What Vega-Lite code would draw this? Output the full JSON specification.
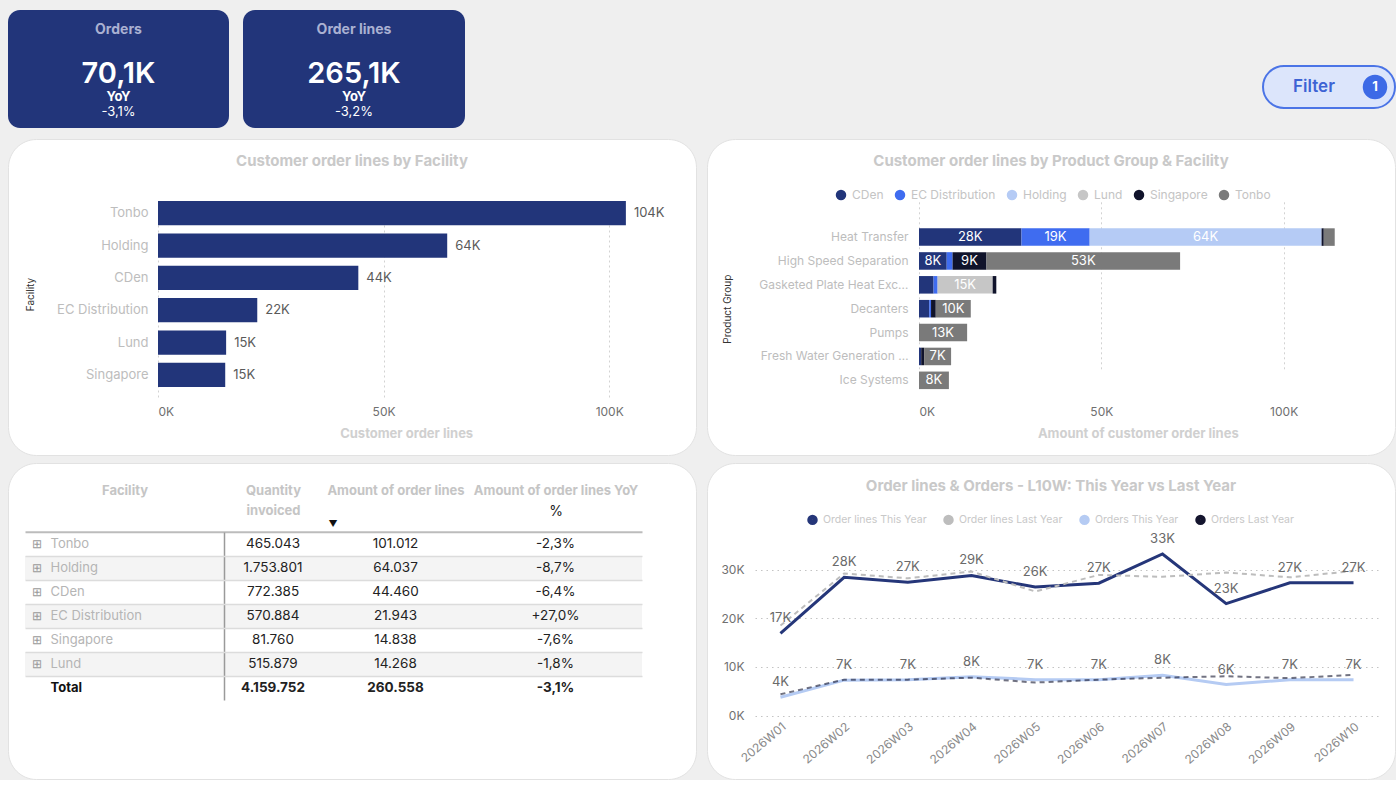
{
  "$schema": "https://vega.github.io/schema/vega-lite/v6.json",
  "background": "#efefef",
  "padding": {"left": 7, "top": 10, "right": 0, "bottom": 0},
  "config": {
    "font": "Inter",
    "view": {"stroke": null},
    "locale": {"number": {"decimal": ",", "thousands": ".", "grouping": [3], "currency": ["", " €"], "minus": "-"}},
    "axis": {"labelFont": "Inter", "titleFont": "Inter"},
    "legend": {"labelFont": "Inter"},
    "title": {"font": "Inter"}
  },
  "datasets": {
    "kpis": [
      {"metric": "Orders", "value": 70100, "yoy": -0.031},
      {"metric": "Order lines", "value": 265100, "yoy": -0.032}
    ],
    "filters": [{"active_filters": 1}],
    "facility_lines": [
      {"facility": "Tonbo", "lines": 103700},
      {"facility": "Holding", "lines": 64100},
      {"facility": "CDen", "lines": 44400},
      {"facility": "EC Distribution", "lines": 22000},
      {"facility": "Lund", "lines": 15100},
      {"facility": "Singapore", "lines": 14900}
    ],
    "group_facility": [
      {"group": "Heat Transfer", "facility": "CDen", "lines": 28100},
      {"group": "Heat Transfer", "facility": "EC Distribution", "lines": 18700},
      {"group": "Heat Transfer", "facility": "Holding", "lines": 63600},
      {"group": "Heat Transfer", "facility": "Singapore", "lines": 600},
      {"group": "Heat Transfer", "facility": "Tonbo", "lines": 3000},
      {"group": "High Speed Separation", "facility": "CDen", "lines": 7600},
      {"group": "High Speed Separation", "facility": "EC Distribution", "lines": 1600},
      {"group": "High Speed Separation", "facility": "Singapore", "lines": 9300},
      {"group": "High Speed Separation", "facility": "Tonbo", "lines": 53100},
      {"group": "Gasketed Plate Heat Exchangers", "facility": "CDen", "lines": 4000},
      {"group": "Gasketed Plate Heat Exchangers", "facility": "EC Distribution", "lines": 1100},
      {"group": "Gasketed Plate Heat Exchangers", "facility": "Lund", "lines": 15100},
      {"group": "Gasketed Plate Heat Exchangers", "facility": "Singapore", "lines": 1000},
      {"group": "Decanters", "facility": "CDen", "lines": 2800},
      {"group": "Decanters", "facility": "EC Distribution", "lines": 500},
      {"group": "Decanters", "facility": "Singapore", "lines": 1300},
      {"group": "Decanters", "facility": "Tonbo", "lines": 9600},
      {"group": "Pumps", "facility": "Tonbo", "lines": 13200},
      {"group": "Fresh Water Generation & Filtration", "facility": "CDen", "lines": 600},
      {"group": "Fresh Water Generation & Filtration", "facility": "Singapore", "lines": 800},
      {"group": "Fresh Water Generation & Filtration", "facility": "Tonbo", "lines": 7400},
      {"group": "Ice Systems", "facility": "Tonbo", "lines": 8200}
    ],
    "facility_table": [
      {"facility": "Tonbo", "qty": 465043, "amount": 101012, "yoy": -0.023},
      {"facility": "Holding", "qty": 1753801, "amount": 64037, "yoy": -0.087},
      {"facility": "CDen", "qty": 772385, "amount": 44460, "yoy": -0.064},
      {"facility": "EC Distribution", "qty": 570884, "amount": 21943, "yoy": 0.27},
      {"facility": "Singapore", "qty": 81760, "amount": 14838, "yoy": -0.076},
      {"facility": "Lund", "qty": 515879, "amount": 14268, "yoy": -0.018},
      {"facility": "Total", "qty": 4159752, "amount": 260558, "yoy": -0.031}
    ],
    "weekly": [
      {"week": "2026W01", "series": "Order lines This Year", "value": 16900},
      {"week": "2026W02", "series": "Order lines This Year", "value": 28400},
      {"week": "2026W03", "series": "Order lines This Year", "value": 27400},
      {"week": "2026W04", "series": "Order lines This Year", "value": 28800},
      {"week": "2026W05", "series": "Order lines This Year", "value": 26400},
      {"week": "2026W06", "series": "Order lines This Year", "value": 27200},
      {"week": "2026W07", "series": "Order lines This Year", "value": 33200},
      {"week": "2026W08", "series": "Order lines This Year", "value": 23000},
      {"week": "2026W09", "series": "Order lines This Year", "value": 27300},
      {"week": "2026W10", "series": "Order lines This Year", "value": 27300},
      {"week": "2026W01", "series": "Order lines Last Year", "value": 18500},
      {"week": "2026W02", "series": "Order lines Last Year", "value": 29200},
      {"week": "2026W03", "series": "Order lines Last Year", "value": 28200},
      {"week": "2026W04", "series": "Order lines Last Year", "value": 29600},
      {"week": "2026W05", "series": "Order lines Last Year", "value": 25500},
      {"week": "2026W06", "series": "Order lines Last Year", "value": 28900},
      {"week": "2026W07", "series": "Order lines Last Year", "value": 28500},
      {"week": "2026W08", "series": "Order lines Last Year", "value": 29400},
      {"week": "2026W09", "series": "Order lines Last Year", "value": 28400},
      {"week": "2026W10", "series": "Order lines Last Year", "value": 29700},
      {"week": "2026W01", "series": "Orders This Year", "value": 3800},
      {"week": "2026W02", "series": "Orders This Year", "value": 7300},
      {"week": "2026W03", "series": "Orders This Year", "value": 7400},
      {"week": "2026W04", "series": "Orders This Year", "value": 8000},
      {"week": "2026W05", "series": "Orders This Year", "value": 7400},
      {"week": "2026W06", "series": "Orders This Year", "value": 7400},
      {"week": "2026W07", "series": "Orders This Year", "value": 8300},
      {"week": "2026W08", "series": "Orders This Year", "value": 6400},
      {"week": "2026W09", "series": "Orders This Year", "value": 7400},
      {"week": "2026W10", "series": "Orders This Year", "value": 7400},
      {"week": "2026W01", "series": "Orders Last Year", "value": 4400},
      {"week": "2026W02", "series": "Orders Last Year", "value": 7400},
      {"week": "2026W03", "series": "Orders Last Year", "value": 7400},
      {"week": "2026W04", "series": "Orders Last Year", "value": 7800},
      {"week": "2026W05", "series": "Orders Last Year", "value": 6800},
      {"week": "2026W06", "series": "Orders Last Year", "value": 7400},
      {"week": "2026W07", "series": "Orders Last Year", "value": 7800},
      {"week": "2026W08", "series": "Orders Last Year", "value": 8100},
      {"week": "2026W09", "series": "Orders Last Year", "value": 7700},
      {"week": "2026W10", "series": "Orders Last Year", "value": 8400}
    ]
  },
  "spacing": 10,
  "resolve": {"scale": {"color": "independent"}, "legend": {"color": "independent"}},
  "vconcat": [
    {
      "spacing": 797,
      "hconcat": [
        {
          "spacing": 14,
          "hconcat": [
            {
              "width": 221, "height": 118,
              "view": {"fill": "#22357a", "cornerRadius": 12, "stroke": null},
              "data": {"name": "kpis"},
              "transform": [
                {"filter": "datum.metric === 'Orders'"},
                {"calculate": "format(datum.value / 1000, '.1f') + 'K'", "as": "value_label"}
              ],
              "layer": [
                {"mark": {"type": "text", "dy": -39, "fontSize": 14, "fontWeight": "bold", "color": "#aab1d2"}, "encoding": {"text": {"field": "metric", "type": "nominal"}}},
                {"mark": {"type": "text", "dy": 5, "fontSize": 29, "fontWeight": 600, "color": "#ffffff"}, "encoding": {"text": {"field": "value_label", "type": "nominal"}}},
                {"mark": {"type": "text", "dy": 28, "fontSize": 13, "fontWeight": "bold", "color": "#ffffff", "text": "YoY"}, "encoding": {}},
                {"mark": {"type": "text", "dy": 43, "fontSize": 13, "color": "#ffffff"}, "encoding": {"text": {"field": "yoy", "type": "quantitative", "format": ".1%"}}}
              ]
            },
            {
              "width": 222, "height": 118,
              "view": {"fill": "#22357a", "cornerRadius": 12, "stroke": null},
              "data": {"name": "kpis"},
              "transform": [
                {"filter": "datum.metric === 'Order lines'"},
                {"calculate": "format(datum.value / 1000, '.1f') + 'K'", "as": "value_label"}
              ],
              "layer": [
                {"mark": {"type": "text", "dy": -39, "fontSize": 14, "fontWeight": "bold", "color": "#aab1d2"}, "encoding": {"text": {"field": "metric", "type": "nominal"}}},
                {"mark": {"type": "text", "dy": 5, "fontSize": 29, "fontWeight": 600, "color": "#ffffff"}, "encoding": {"text": {"field": "value_label", "type": "nominal"}}},
                {"mark": {"type": "text", "dy": 28, "fontSize": 13, "fontWeight": "bold", "color": "#ffffff", "text": "YoY"}, "encoding": {}},
                {"mark": {"type": "text", "dy": 43, "fontSize": 13, "color": "#ffffff"}, "encoding": {"text": {"field": "yoy", "type": "quantitative", "format": ".1%"}}}
              ]
            }
          ]
        },
        {
          "spacing": 0,
          "vconcat": [
            {"width": 133, "height": 55, "data": {"values": [{}]}, "mark": {"type": "text", "text": ""}, "encoding": {}},
            {
              "width": 132, "height": 42,
              "view": {"fill": "#dce5fb", "stroke": "#4b74e6", "strokeWidth": 2, "cornerRadius": 21},
              "data": {"name": "filters"},
              "layer": [
                {
                  "mark": {"type": "text", "text": "Filter", "fontSize": 17, "fontWeight": 600, "color": "#3d63d4"},
                  "encoding": {"x": {"datum": "label", "type": "nominal", "scale": {"type": "point", "domain": ["label", "badge"], "range": [51, 112], "padding": 0}, "axis": null}}
                },
                {
                  "mark": {"type": "point", "filled": true, "shape": "circle", "size": 600, "color": "#3d6ae6", "opacity": 1},
                  "encoding": {"x": {"datum": "badge", "type": "nominal"}}
                },
                {
                  "mark": {"type": "text", "fontSize": 13, "fontWeight": "bold", "color": "#ffffff"},
                  "encoding": {"x": {"datum": "badge", "type": "nominal"}, "text": {"field": "active_filters", "type": "quantitative"}}
                }
              ]
            }
          ]
        }
      ]
    },
    {
      "spacing": 6,
      "resolve": {"scale": {"color": "independent"}, "legend": {"color": "independent"}},
      "vconcat": [
        {
          "spacing": 9,
          "resolve": {"scale": {"color": "independent"}, "legend": {"color": "independent"}},
          "hconcat": [
            {
              "width": 688, "height": 316,
              "view": {"fill": "#ffffff", "cornerRadius": 28, "stroke": "#e2e2e2"},
              "title": {"text": "Customer order lines by Facility", "frame": "group", "anchor": "middle", "offset": -37, "baseline": "middle", "fontSize": 15, "fontWeight": "bold", "color": "#c9c9c9"},
              "data": {"name": "facility_lines"},
              "transform": [{"calculate": "format(datum.lines / 1000, '.0f') + 'K'", "as": "lines_label"}],
              "encoding": {
                "y": {
                  "field": "facility", "type": "nominal",
                  "scale": {"domain": ["Tonbo", "Holding", "CDen", "EC Distribution", "Lund", "Singapore"], "range": [58, 252], "paddingInner": 0.25, "paddingOuter": 0.125},
                  "axis": {"orient": "left", "offset": -150, "ticks": false, "domain": false, "labelPadding": 10, "labelFontSize": 13, "labelColor": "#bdbdbd", "title": "Facility", "titleFontSize": 10, "titleFontWeight": "normal", "titleColor": "#333333", "titleX": -123, "titleY": 155, "titleAlign": "center", "titleBaseline": "bottom"}
                },
                "x": {
                  "field": "lines", "type": "quantitative",
                  "scale": {"domain": [0, 110000], "range": [150, 646.3], "nice": false},
                  "axis": {"orient": "bottom", "offset": -54, "values": [0, 50000, 100000], "labelExpr": "format(datum.value / 1000, '.0f') + 'K'", "domain": false, "ticks": false, "grid": true, "gridColor": "#d2d2d2", "gridDash": [2, 3], "labelColor": "#6f6f6f", "labelFontSize": 12, "labelPadding": 5, "title": "Customer order lines", "titleColor": "#d0d0d0", "titleFontSize": 13, "titlePadding": 10, "titleFontWeight": "bold"}
                }
              },
              "layer": [
                {"mark": {"type": "bar", "color": "#22357a"}},
                {"mark": {"type": "text", "align": "left", "dx": 8, "fontSize": 13, "color": "#5a5a5a"}, "encoding": {"text": {"field": "lines_label", "type": "nominal"}}}
              ]
            },
            {
              "width": 688, "height": 316,
              "view": {"fill": "#ffffff", "cornerRadius": 28, "stroke": "#e2e2e2"},
              "title": {"text": "Customer order lines by Product Group & Facility", "frame": "group", "anchor": "middle", "offset": -37, "baseline": "middle", "fontSize": 15, "fontWeight": "bold", "color": "#c9c9c9"},
              "data": {"name": "group_facility"},
              "transform": [{"calculate": "format(datum.lines / 1000, '.0f') + 'K'", "as": "lines_label"}],
              "encoding": {
                "y": {
                  "field": "group", "type": "nominal",
                  "scale": {"domain": ["Heat Transfer", "High Speed Separation", "Gasketed Plate Heat Exchangers", "Decanters", "Pumps", "Fresh Water Generation & Filtration", "Ice Systems"], "range": [86.2, 253.2], "paddingInner": 0.265, "paddingOuter": 0.13},
                  "axis": {"orient": "left", "offset": -212, "ticks": false, "domain": false, "labelPadding": 11, "labelLimit": 150, "labelFontSize": 12, "labelColor": "#bdbdbd", "title": "Product Group", "titleFontSize": 10, "titleFontWeight": "normal", "titleColor": "#333333", "titleX": -187, "titleY": 169.7, "titleAlign": "center", "titleBaseline": "bottom"}
                },
                "order": {"field": "facility", "type": "ordinal", "sort": "ascending"}
              },
              "layer": [
                {
                  "mark": {"type": "bar"},
                  "encoding": {
                    "x": {
                      "field": "lines", "type": "quantitative", "stack": "zero",
                      "scale": {"domain": [0, 120000], "range": [212, 649.6], "nice": false},
                      "axis": {"orient": "bottom", "offset": -54, "values": [0, 50000, 100000], "labelExpr": "format(datum.value / 1000, '.0f') + 'K'", "domain": false, "ticks": false, "grid": true, "gridColor": "#d2d2d2", "gridDash": [2, 3], "labelColor": "#6f6f6f", "labelFontSize": 12, "labelPadding": 5, "title": "Amount of customer order lines", "titleColor": "#d0d0d0", "titleFontSize": 13, "titlePadding": 10, "titleFontWeight": "bold"}
                    },
                    "color": {
                      "field": "facility", "type": "nominal",
                      "scale": {"domain": ["CDen", "EC Distribution", "Holding", "Lund", "Singapore", "Tonbo"], "range": ["#22357a", "#3f6cf0", "#b5cbf5", "#c6c6c6", "#10132b", "#7a7a7a"]},
                      "legend": {"orient": "none", "legendX": 128, "legendY": 50, "direction": "horizontal", "title": null, "symbolType": "circle", "symbolSize": 110, "labelFontSize": 12, "labelColor": "#c4c4c4", "columnPadding": 10, "labelOffset": 5}
                    }
                  }
                },
                {
                  "mark": {"type": "text", "fontSize": 13, "color": "#ffffff"},
                  "encoding": {
                    "x": {"field": "lines", "type": "quantitative", "stack": "zero", "bandPosition": 0.5},
                    "detail": {"field": "facility", "type": "nominal"},
                    "text": {"condition": {"test": "datum.lines >= 7000", "field": "lines_label", "type": "nominal"}, "value": ""}
                  }
                }
              ]
            }
          ]
        },
        {
          "spacing": 9,
          "resolve": {"scale": {"color": "independent"}, "legend": {"color": "independent"}},
          "hconcat": [
            {
              "width": 688, "height": 316,
              "view": {"fill": "#ffffff", "cornerRadius": 28, "stroke": "#e2e2e2"},
              "data": {"name": "facility_table"},
              "encoding": {
                "y": {"field": "facility", "type": "nominal", "scale": {"domain": ["Tonbo", "Holding", "CDen", "EC Distribution", "Singapore", "Lund", "Total"], "range": [69, 237], "paddingInner": 0, "paddingOuter": 0}}
              },
              "layer": [
                {
                  "transform": [{"filter": {"field": "facility", "oneOf": ["Holding", "EC Distribution", "Lund"]}}],
                  "mark": {"type": "bar", "color": "#f4f4f4"},
                  "encoding": {
                    "x": {"datum": "row", "type": "nominal", "scale": {"type": "band", "range": [17, 634], "paddingInner": 0, "paddingOuter": 0}, "axis": {"orient": "top", "offset": -68.7, "labels": false, "ticks": false, "domain": true, "domainColor": "#bcbcbc", "domainWidth": 2, "grid": false, "title": null}},
                    "y": {
                      "field": "facility", "type": "nominal",
                      "axis": {
                        "orient": "left", "offset": -42, "zindex": 1, "labelAlign": "left", "labelPadding": 0, "labelOverlap": false, "labelBound": false, "ticks": false, "domain": false,
                        "grid": true, "bandPosition": 1, "gridColor": "#dcdcdc", "gridWidth": 1.5,
                        "gridOpacity": {"condition": {"test": "datum.value === 'Total'", "value": 0}, "value": 1},
                        "labelColor": {"condition": {"test": "datum.value === 'Total'", "value": "#111111"}, "value": "#b5b5b5"},
                        "labelFontWeight": {"condition": {"test": "datum.value === 'Total'", "value": "bold"}, "value": "normal"},
                        "labelFontSize": 13,
                        "title": "Facility", "titleAngle": 0, "titleX": 74.5, "titleY": 27.7, "titleAlign": "center", "titleBaseline": "middle", "titleColor": "#c5c5c5", "titleFontWeight": "bold", "titleFontSize": 13
                      }
                    }
                  }
                },
                {
                  "transform": [{"filter": "datum.facility !== 'Total'"}],
                  "mark": {"type": "text", "text": "⊞", "fontSize": 12, "color": "#9a9a9a"},
                  "encoding": {
                    "x": {"datum": "name", "type": "nominal", "bandPosition": 0.06, "scale": {"type": "band", "range": [17, 216], "paddingInner": 0, "paddingOuter": 0}, "axis": {"orient": "top", "offset": -68.7, "zindex": 1, "labels": false, "ticks": false, "domain": false, "grid": true, "bandPosition": 1, "gridColor": "#9a9a9a", "gridWidth": 1.5, "title": null}},
                    "y": {"field": "facility", "type": "nominal", "axis": null}
                  }
                },
                {
                  "mark": {"type": "text", "fontSize": 13.5, "color": "#222222", "fontWeight": {"expr": "datum.facility === 'Total' ? 'bold' : 'normal'"}},
                  "encoding": {
                    "x": {"datum": "qty", "type": "nominal", "scale": {"range": [216, 314]}, "axis": {"orient": "top", "offset": -68.7, "labels": false, "ticks": false, "domain": false, "grid": false, "title": ["Quantity", "invoiced"], "titleY": -41, "titleBaseline": "middle", "titleAlign": "center", "titleLineHeight": 20, "titleColor": "#c5c5c5", "titleFontWeight": "bold", "titleFontSize": 13}},
                    "y": {"field": "facility", "type": "nominal", "axis": null},
                    "text": {"field": "qty", "type": "quantitative", "format": ",d"}
                  }
                },
                {
                  "mark": {"type": "text", "fontSize": 13.5, "color": "#222222", "fontWeight": {"expr": "datum.facility === 'Total' ? 'bold' : 'normal'"}},
                  "encoding": {
                    "x": {"datum": "amount", "type": "nominal", "scale": {"range": [314, 461]}, "axis": {"orient": "top", "offset": -68.7, "labels": true, "labelAngle": 0, "labelExpr": "'▼'", "labelOffset": -63, "labelPadding": 3, "labelFontSize": 9, "labelColor": "#111111", "ticks": false, "domain": false, "grid": false, "title": "Amount of order lines", "titleY": -41, "titleBaseline": "middle", "titleAlign": "center", "titleColor": "#c5c5c5", "titleFontWeight": "bold", "titleFontSize": 13}},
                    "y": {"field": "facility", "type": "nominal", "axis": null},
                    "text": {"field": "amount", "type": "quantitative", "format": ",d"}
                  }
                },
                {
                  "mark": {"type": "text", "fontSize": 13.5, "color": "#222222", "fontWeight": {"expr": "datum.facility === 'Total' ? 'bold' : 'normal'"}},
                  "encoding": {
                    "x": {"datum": "%", "type": "nominal", "scale": {"range": [461, 634]}, "axis": {"orient": "top", "offset": -68.7, "labels": true, "labelAngle": 0, "labelPadding": 13, "labelFontSize": 14, "labelColor": "#222222", "ticks": false, "domain": false, "grid": false, "title": "Amount of order lines YoY", "titleY": -41, "titleBaseline": "middle", "titleAlign": "center", "titleColor": "#c5c5c5", "titleFontWeight": "bold", "titleFontSize": 13}},
                    "y": {"field": "facility", "type": "nominal", "axis": null},
                    "text": {"field": "yoy", "type": "quantitative", "format": "+.1%"}
                  }
                }
              ],
              "resolve": {"scale": {"x": "independent"}, "axis": {"x": "independent", "y": "independent"}}
            },
            {
              "width": 688, "height": 316,
              "view": {"fill": "#ffffff", "cornerRadius": 28, "stroke": "#e2e2e2"},
              "title": {"text": "Order lines & Orders - L10W: This Year vs Last Year", "frame": "group", "anchor": "middle", "offset": -38, "baseline": "middle", "fontSize": 15, "fontWeight": "bold", "color": "#c9c9c9"},
              "data": {"name": "weekly"},
              "transform": [{"calculate": "format(datum.value / 1000, '.0f') + 'K'", "as": "value_label"}],
              "encoding": {
                "x": {
                  "field": "week", "type": "ordinal",
                  "scale": {"type": "point", "range": [48, 672], "padding": 0.4},
                  "axis": {"orient": "bottom", "offset": -63.3, "labelAngle": -40, "labelAlign": "right", "labelBaseline": "top", "labelPadding": 5, "domain": false, "ticks": false, "grid": false, "title": null, "labelColor": "#8a8a8a", "labelFontSize": 12}
                },
                "y": {
                  "field": "value", "type": "quantitative",
                  "scale": {"domain": [0, 35000], "range": [252.7, 82.2], "nice": false},
                  "axis": {"orient": "left", "offset": -48, "values": [0, 10000, 20000, 30000], "labelExpr": "format(datum.value / 1000, '.0f') + 'K'", "labelPadding": 11, "domain": false, "ticks": false, "grid": true, "gridDash": [1.5, 4], "gridColor": "#c4c4c4", "gridWidth": 1.2, "title": null, "labelColor": "#707070", "labelFontSize": 12}
                },
                "color": {
                  "field": "series", "type": "nominal",
                  "scale": {"domain": ["Order lines This Year", "Order lines Last Year", "Orders This Year", "Orders Last Year"], "range": ["#253679", "#bdbdbd", "#b5cbf3", "#14152e"]},
                  "legend": {"orient": "none", "legendX": 100, "legendY": 51, "direction": "horizontal", "title": null, "symbolType": "circle", "symbolSize": 30, "symbolStrokeWidth": 5, "symbolDash": [], "labelFontSize": 10.5, "labelColor": "#c8c8c8", "columnPadding": 8, "labelOffset": 5}
                }
              },
              "layer": [
                {
                  "transform": [{"filter": {"field": "series", "oneOf": ["Order lines This Year", "Orders This Year"]}}],
                  "mark": {"type": "line", "strokeWidth": 3}
                },
                {
                  "transform": [{"filter": {"field": "series", "oneOf": ["Order lines Last Year", "Orders Last Year"]}}],
                  "mark": {"type": "line", "strokeWidth": 2, "strokeDash": [5, 4]},
                  "encoding": {"strokeOpacity": {"condition": {"test": "datum.series === 'Orders Last Year'", "value": 0.6}, "value": 1}}
                },
                {
                  "transform": [{"filter": {"field": "series", "oneOf": ["Order lines This Year", "Orders This Year"]}}],
                  "mark": {"type": "text", "dy": -15, "fontSize": 13, "color": "#6a6a6a"},
                  "encoding": {"text": {"field": "value_label", "type": "nominal"}, "color": {"value": "#6a6a6a"}}
                }
              ]
            }
          ]
        }
      ]
    }
  ]
}
